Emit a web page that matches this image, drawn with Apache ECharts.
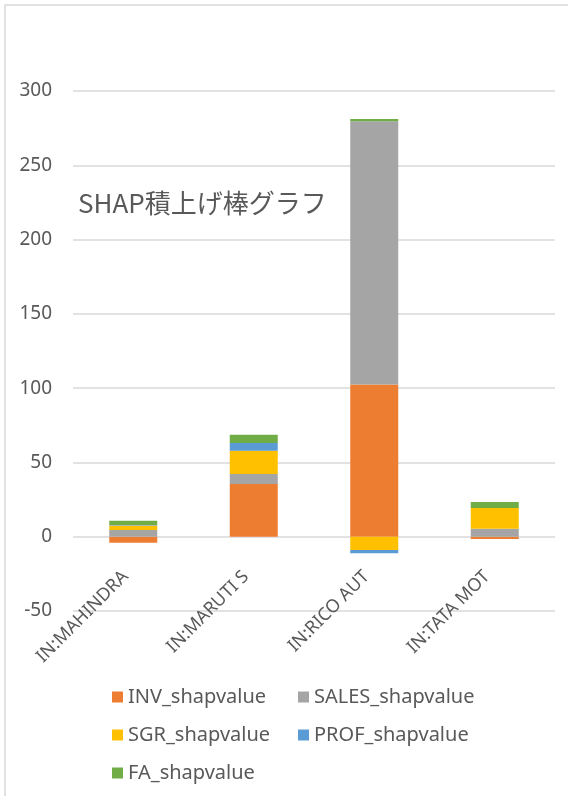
<!DOCTYPE html>
<html>
<head>
<meta charset="utf-8">
<script src="https://cdn.jsdelivr.net/npm/echarts@6/dist/echarts.min.js"></script>
<style>
  html, body { margin: 0; padding: 0; background: #fff; }
  #chart { width: 568px; height: 796px; }
</style>
</head>
<body>
<div id="chart"></div>
<script>
// categories and per-feature SHAP values
var categories = ['IN:MAHINDRA', 'IN:MARUTI S', 'IN:RICO AUT', 'IN:TATA MOT'];
var invValues = [-4.1, 35.4, 102.5, -1.5];
var salesValues = [4.6, 6.8, 177.2, 5.4];
var sgrValues = [3.0, 15.7, -9.0, 14.0];
var profValues = [0.3, 5.2, -2.2, 0];
var faValues = [2.9, 5.6, 1.4, 4.0];
var yTicks = { min: -50, max: 300, step: 50 };

var textColor = '#595959';
var fontFamily = '"Noto Sans", "Open Sans", "Noto Sans CJK JP", sans-serif';

function stackSeries(name, data, color) {
  return {
    name: name,
    type: 'bar',
    stack: 'total',
    barWidth: 48,
    data: data,
    itemStyle: { color: color },
    emphasis: { disabled: true }
  };
}

var chart = echarts.init(document.getElementById('chart'), null, { renderer: 'canvas' });

var legendText = { fontSize: 20, lineHeight: 20, color: textColor, fontFamily: fontFamily };

var option = {
  backgroundColor: '#fff',
  animation: false,
  textStyle: { fontFamily: fontFamily, color: textColor },
  graphic: [{
    type: 'rect',
    shape: { x: 5, y: 5, width: 700, height: 900 },
    style: { fill: 'none', stroke: '#d9d9d9', lineWidth: 1.5 },
    silent: true
  }],
  title: {
    text: 'SHAP積上げ棒グラフ',
    left: 78,
    top: 190,
    padding: 0,
    textStyle: {
      fontFamily: '"Noto Sans CJK JP", sans-serif',
      fontSize: 26,
      fontWeight: 'normal',
      color: textColor
    }
  },
  grid: {
    left: 73,
    right: 13,
    top: 91,
    bottom: 185,
    containLabel: false,
    outerBoundsMode: 'none'
  },
  legend: [{
    orient: 'vertical',
    left: 112,
    top: 687,
    padding: 0,
    itemWidth: 11,
    itemHeight: 11,
    itemGap: 18,
    icon: 'rect',
    data: ['INV_shapvalue', 'SGR_shapvalue', 'FA_shapvalue'],
    textStyle: legendText
  }, {
    orient: 'vertical',
    left: 298,
    top: 687,
    padding: 0,
    itemWidth: 11,
    itemHeight: 11,
    itemGap: 18,
    icon: 'rect',
    data: ['SALES_shapvalue', 'PROF_shapvalue'],
    textStyle: legendText
  }],
  xAxis: {
    type: 'category',
    data: categories,
    axisLine: { show: false },
    axisTick: { show: false },
    axisLabel: {
      rotate: 45,
      // labels hang just under the zero line, as in the source chart
      margin: -45,
      padding: [0, 11, 0, 0],
      fontSize: 18,
      color: textColor,
      fontFamily: fontFamily,
      interval: 0
    }
  },
  yAxis: {
    type: 'value',
    min: yTicks.min,
    max: yTicks.max,
    interval: yTicks.step,
    axisLine: { show: false },
    axisTick: { show: false },
    splitLine: { lineStyle: { color: '#d9d9d9', width: 1.5 } },
    axisLabel: {
      margin: 21,
      fontSize: 19,
      color: textColor,
      fontFamily: fontFamily
    }
  },
  series: [
    stackSeries('INV_shapvalue', invValues, '#ED7D31'),
    stackSeries('SALES_shapvalue', salesValues, '#A5A5A5'),
    stackSeries('SGR_shapvalue', sgrValues, '#FFC000'),
    stackSeries('PROF_shapvalue', profValues, '#5B9BD5'),
    stackSeries('FA_shapvalue', faValues, '#70AD47')
  ]
};

chart.setOption(option);
</script>
</body>
</html>
